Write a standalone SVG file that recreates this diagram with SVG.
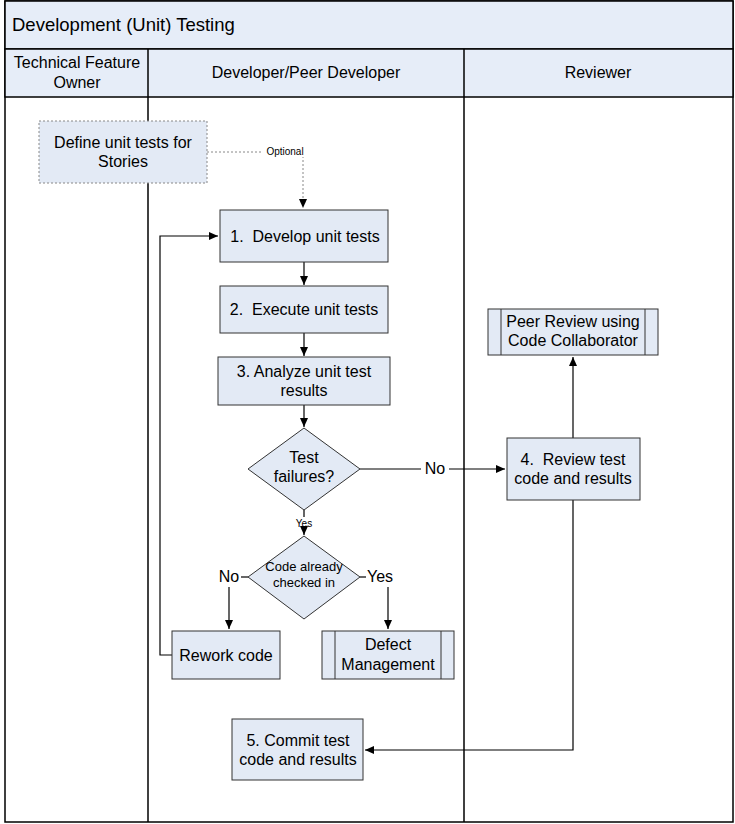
<svg xmlns="http://www.w3.org/2000/svg" width="735" height="824" viewBox="0 0 735 824">
<defs>
<marker id="ah" markerWidth="10" markerHeight="8" refX="9" refY="4" orient="auto" markerUnits="userSpaceOnUse">
<path d="M0,0 L9,4 L0,8 z" fill="#000"/>
</marker>
</defs>
<style>
text{font-family:"Liberation Sans",Arial,sans-serif;fill:#000;white-space:pre}
.t{font-size:16px;text-anchor:middle}
.box{fill:#E3EAF5;stroke:#333;stroke-width:1}
.hdr{fill:#E6EDF8;stroke:#000;stroke-width:1.5}
.ln{fill:none;stroke:#000;stroke-width:1.2}
.lbl{font-size:10px;text-anchor:middle}
</style>
<rect x="0" y="0" width="735" height="824" fill="#fff"/>
<g id="pool">
<rect x="5" y="1" width="728" height="821" fill="#fff" stroke="#000" stroke-width="1.5"/>
<rect class="hdr" x="5" y="1" width="728" height="48"/>
<text x="12" y="31" style="font-size:18.5px">Development (Unit) Testing</text>
<rect class="hdr" x="5" y="49" width="728" height="48"/>
<line x1="148" y1="49" x2="148" y2="822" stroke="#000" stroke-width="1.5"/>
<line x1="464" y1="49" x2="464" y2="822" stroke="#000" stroke-width="1.5"/>
<text class="t" x="77" y="68">Technical Feature</text>
<text class="t" x="77" y="88">Owner</text>
<text class="t" x="306" y="78">Developer/Peer Developer</text>
<text class="t" x="598" y="78">Reviewer</text>
</g>
<g id="connectors">
<path d="M207,152 H303 V208" fill="none" stroke="#888" stroke-width="1" stroke-dasharray="2,2" marker-end="url(#ah)"/>
<rect x="263" y="145" width="42" height="12" fill="#fff"/>
<text class="lbl" x="285" y="155">Optional</text>
<path class="ln" d="M304,262 V285" marker-end="url(#ah)"/>
<path class="ln" d="M304,333 V356" marker-end="url(#ah)"/>
<path class="ln" d="M304,405 V427" marker-end="url(#ah)"/>
<path class="ln" d="M360,469 H421 M449,469 H505" marker-end="url(#ah)"/>
<text x="435" y="474" style="font-size:16px;text-anchor:middle">No</text>
<path class="ln" d="M573,438 V357" marker-end="url(#ah)"/>
<path class="ln" d="M304,510 V517 M304,529 V535" marker-end="url(#ah)"/>
<text class="lbl" x="304" y="527">Yes</text>
<path class="ln" d="M248,577 H241"/>
<text x="229" y="582" style="font-size:16px;text-anchor:middle">No</text>
<path class="ln" d="M229,587 V629" marker-end="url(#ah)"/>
<path class="ln" d="M360,577 H366"/>
<text x="380" y="582" style="font-size:16px;text-anchor:middle">Yes</text>
<path class="ln" d="M388,587 V629" marker-end="url(#ah)"/>
<path class="ln" d="M172,655 H160 V236 H218" marker-end="url(#ah)"/>
<path class="ln" d="M573,500 V750 H365" marker-end="url(#ah)"/>
</g>
<g id="define">
<rect x="39" y="121" width="168" height="62" fill="#E3EAF5" stroke="#888" stroke-width="1" stroke-dasharray="2,2"/>
<text class="t" x="123" y="148">Define unit tests for</text>
<text class="t" x="123" y="167">Stories</text>
</g>
<g id="step1">
<rect class="box" x="220" y="210" width="168" height="52"/>
<text class="t" x="305" y="242">1.  Develop unit tests</text>
</g>
<g id="step2">
<rect class="box" x="220" y="286" width="168" height="47"/>
<text class="t" x="304" y="315">2.  Execute unit tests</text>
</g>
<g id="step3">
<rect class="box" x="218" y="357" width="172" height="48"/>
<text class="t" x="304" y="377">3. Analyze unit test</text>
<text class="t" x="304" y="396">results</text>
</g>
<g id="testfail">
<polygon class="box" points="304,428 360,469 304,510 248,469"/>
<text class="t" x="304" y="463">Test</text>
<text class="t" x="304" y="482">failures?</text>
</g>
<g id="checkedin">
<polygon class="box" points="304,536 360,577 304,619 248,577"/>
<text x="304" y="571" style="font-size:13px;text-anchor:middle">Code already</text>
<text x="304" y="587" style="font-size:13px;text-anchor:middle">checked in</text>
</g>
<g id="rework">
<rect class="box" x="172" y="631" width="108" height="48"/>
<text class="t" x="226" y="661">Rework code</text>
</g>
<g id="defect">
<rect class="box" x="322" y="631" width="132" height="48"/>
<line x1="335" y1="631" x2="335" y2="679" stroke="#333"/>
<line x1="441" y1="631" x2="441" y2="679" stroke="#333"/>
<text class="t" x="388" y="650">Defect</text>
<text class="t" x="388" y="670">Management</text>
</g>
<g id="peer">
<rect class="box" x="488" y="309" width="170" height="46"/>
<line x1="501" y1="309" x2="501" y2="355" stroke="#333"/>
<line x1="645" y1="309" x2="645" y2="355" stroke="#333"/>
<text class="t" x="573" y="327">Peer Review using</text>
<text class="t" x="573" y="346">Code Collaborator</text>
</g>
<g id="step4">
<rect class="box" x="507" y="438" width="133" height="62"/>
<text class="t" x="573" y="465">4.  Review test</text>
<text class="t" x="573" y="484">code and results</text>
</g>
<g id="step5">
<rect class="box" x="232" y="719" width="131" height="61"/>
<text class="t" x="298" y="746">5. Commit test</text>
<text class="t" x="298" y="765">code and results</text>
</g>
</svg>
